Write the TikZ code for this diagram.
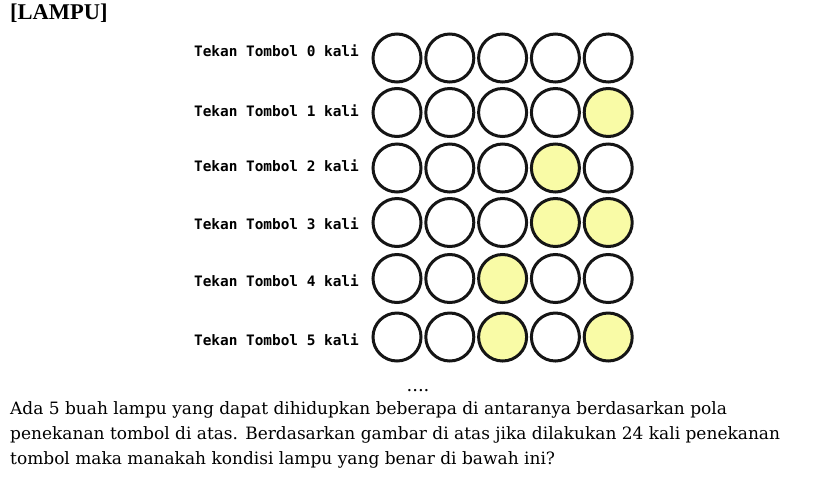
\documentclass[tikz,border=0pt]{standalone}
\usepackage{fontspec}
\setmainfont{DejaVu Serif}
\newfontfamily\judulfont{Liberation Serif}
\setmonofont{DejaVu Sans Mono}
\usepackage{xcolor}
\definecolor{kuning}{HTML}{F9FBA6}
\definecolor{garis}{HTML}{151515}

\begin{document}
\begin{tikzpicture}[
  x=1pt, y=-1pt,
  lamp/.style={circle, draw=garis, line width=3pt, fill=white, minimum size=48pt, inner sep=0pt},
  nyala/.style={lamp, fill=kuning},
  ket/.style={font=\fontsize{14.4}{16}\selectfont\ttfamily\bfseries, anchor=base east, inner sep=0pt}
]
\useasboundingbox (0,0) rectangle (826,480);

\node[anchor=base west, inner sep=0pt, font=\fontsize{22.5}{24}\selectfont\judulfont\bfseries] (judul) at (10,19.5) {[LAMPU]};

% label tiap baris
\node[ket] (t0) at (359,56) {Tekan Tombol 0 kali};
\node[ket] (t1) at (359,116) {Tekan Tombol 1 kali};
\node[ket] (t2) at (359,171) {Tekan Tombol 2 kali};
\node[ket] (t3) at (359,229.3) {Tekan Tombol 3 kali};
\node[ket] (t4) at (359,286.5) {Tekan Tombol 4 kali};
\node[ket] (t5) at (359,345.5) {Tekan Tombol 5 kali};

% lampu
\node[lamp] (a1) at (397,58) {}; \node[lamp] (a2) at (449.8,58) {}; \node[lamp] (a3) at (502.6,58) {}; \node[lamp] (a4) at (555.4,58) {}; \node[lamp] (a5) at (608.2,58) {};
\node[lamp] (b1) at (397,112.5) {}; \node[lamp] (b2) at (449.8,112.5) {}; \node[lamp] (b3) at (502.6,112.5) {}; \node[lamp] (b4) at (555.4,112.5) {}; \node[nyala] (b5) at (608.2,112.5) {};
\node[lamp] (c1) at (397,168) {}; \node[lamp] (c2) at (449.8,168) {}; \node[lamp] (c3) at (502.6,168) {}; \node[nyala] (c4) at (555.4,168) {}; \node[lamp] (c5) at (608.2,168) {};
\node[lamp] (d1) at (397,222.5) {}; \node[lamp] (d2) at (449.8,222.5) {}; \node[lamp] (d3) at (502.6,222.5) {}; \node[nyala] (d4) at (555.4,222.5) {}; \node[nyala] (d5) at (608.2,222.5) {};
\node[lamp] (e1) at (397,278.5) {}; \node[lamp] (e2) at (449.8,278.5) {}; \node[nyala] (e3) at (502.6,278.5) {}; \node[lamp] (e4) at (555.4,278.5) {}; \node[lamp] (e5) at (608.2,278.5) {};
\node[lamp] (f1) at (397,337) {}; \node[lamp] (f2) at (449.8,337) {}; \node[nyala] (f3) at (502.6,337) {}; \node[lamp] (f4) at (555.4,337) {}; \node[nyala] (f5) at (608.2,337) {};

\node[anchor=base, inner sep=0pt, font=\fontsize{18}{20}\selectfont] (titik) at (418,391) {....};

\node[anchor=north west, inner sep=0pt, align=left, font=\fontsize{17}{25}\selectfont] (soal) at (10,401.5)
  {Ada 5 buah lampu yang dapat dihidupkan beberapa di antaranya berdasarkan pola\\
   penekanan tombol di atas. Berdasarkan gambar di atas jika dilakukan 24 kali penekanan\\
   tombol maka manakah kondisi lampu yang benar di bawah ini?};

\end{tikzpicture}
\end{document}
